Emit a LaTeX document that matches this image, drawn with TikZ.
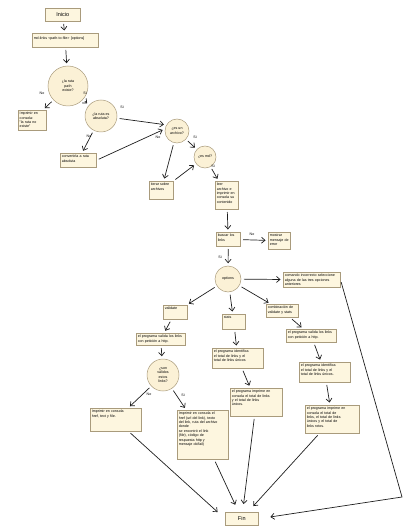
\documentclass[tikz,border=0pt]{standalone}
\usepackage{fontspec}
\setmainfont{Liberation Sans}
\usetikzlibrary{arrows.meta}
\definecolor{boxfill}{HTML}{FDF6DF}
\definecolor{boxline}{HTML}{A99B7C}
\definecolor{decfill}{HTML}{FBF1D6}
\definecolor{arrgray}{HTML}{1E1E1E}
\newcommand{\smallfnt}{\fontsize{3.6}{4.4}\selectfont}

\begin{document}
\begin{tikzpicture}[x=1pt, y=-1pt, >={Straight Barb[length=3.5pt, width=6pt]},
  box/.style 2 args={draw=boxline, line width=0.5pt, fill=boxfill, inner sep=1.5pt,
    anchor=north west, align=left, font=\smallfnt,
    text width=#1, text height=3pt, text depth=#2},
  endbox/.style={draw=boxline, line width=0.5pt, fill=boxfill, anchor=north west,
    font=\fontsize{5.5}{6.5}\selectfont, minimum width=#1, minimum height=13pt},
  dec/.style={circle, draw=boxline, line width=0.5pt, fill=decfill, align=center,
    inner sep=0pt, minimum size=#1, font=\smallfnt},
  arr/.style={->, arrgray, line width=0.7pt, shorten >=2.5pt, shorten <=2.5pt},
  lbl/.style={font=\smallfnt, inner sep=0pt}]

\useasboundingbox (0,0) rectangle (406,529);

% Start
\node[endbox=35pt] (inicio) at (45,8) {Inicio};
\node[box={63pt}{6pt}, text height=5pt] (cmd) at (32,33) {md-links <path-to-file> [options]};

% Path checks
\node[dec=40pt] (existe) at (68,86) {¿la ruta\\path\\existe?};
\node[box={25pt}{14pt}] (noexiste) at (18,110) {Imprimir en\\consola:\\"la ruta no\\existe"};
\node[dec=32pt] (absoluta) at (101,116) {¿la ruta es\\absoluta?};
\node[box={33pt}{8pt}] (conv) at (60,153) {convertirla a ruta\\absoluta};
\node[dec=24pt] (archivo) at (177,131) {¿es un\\archivo?};
\node[box={21pt}{12pt}] (iterar) at (149,181) {iterar sobre\\archivos};
\node[dec=22pt] (md) at (205,157) {¿es md?};
\node[box={20pt}{22pt}] (leer) at (215,181) {leer\\archivo e\\imprimir en\\consola su\\contenido};
\node[box={21pt}{8pt}] (buscar) at (216,232) {buscar los\\links};
\node[box={19pt}{11pt}] (error) at (268,232) {mostrar\\mensaje de\\error};

% Options
\node[dec=26pt] (options) at (228,279) {options};
\node[box={54pt}{9pt}] (comando) at (283,272) {comando incorrecto seleccione\\alguna de las tres opciones\\anteriores};
\node[box={21pt}{8pt}] (validate) at (163,305) {validate};
\node[box={20pt}{9pt}] (stats) at (222,314) {stats};
\node[box={29pt}{7pt}] (combo) at (266,304) {combinación de\\validate y stats};

% Validate branch
\node[box={46pt}{6pt}] (valida1) at (136,333) {el programa valida los links\\con petición a http.};
\node[dec=32pt] (validos) at (163,375) {¿son\\válidos\\estos\\links?};
\node[box={48pt}{17pt}] (href) at (90,408) {Imprimir en consola\\href, text y file.};
\node[box={48pt}{43pt}] (okbox) at (177,410) {Imprimir en consola el\\href (url del link), texto\\del link, ruta del archivo\\donde\\se encontró el link\\(file), código de\\respuesta http y\\mensaje ok/fail)};

% Stats branch
\node[box={48pt}{14pt}] (ident1) at (212,348) {el programa identifica\\el total de links y el\\total de links únicos};
\node[box={49pt}{22pt}] (imp1) at (230,388) {el programa imprime en\\consola el total de links\\y el total de links\\únicos.};

% Validate + stats branch
\node[box={47pt}{7pt}] (valida2) at (286,329) {el programa valida los links\\con petición a http.};
\node[box={48pt}{14pt}] (ident2) at (299,362) {el programa identifica\\el total de links y el\\total de links únicos.};
\node[box={51pt}{22pt}] (imp2) at (305,405) {el programa imprime en\\consola el total de\\links, el total de links\\únicos y el total de\\links rotos.};

% End
\node[endbox=33pt] (fin) at (225,512) {Fin};
\coordinate (corner) at (402,497);

% Arrows
\draw[arr] (inicio) -- (cmd);
\draw[arr] (cmd) -- (existe);
\draw[arr] (existe) -- (noexiste);
\draw[arr] (existe) -- (absoluta);
\draw[arr] (absoluta) -- (archivo.150);
\draw[arr] (absoluta) -- (conv);
\draw[arr] (conv.east) -- (archivo.170);
\draw[arr] (archivo) -- (iterar);
\draw[arr] (archivo) -- (md);
\draw[arr] (iterar) -- (md);
\draw[arr] (md) -- (leer);
\draw[arr] (leer) -- (buscar);
\draw[arr] (buscar) -- (error);
\draw[arr] (buscar) -- (options);
\draw[arr] (options) -- (comando);
\draw[arr] (options) -- (validate);
\draw[arr] (options) -- (stats);
\draw[arr] (options) -- (combo);
\draw[arr] (validate) -- (valida1);
\draw[arr] (valida1) -- (validos);
\draw[arr] (validos) -- (href);
\draw[arr] (validos) -- (okbox);
\draw[arr] (stats) -- (ident1);
\draw[arr] (ident1) -- (imp1);
\draw[arr] (combo) -- (valida2);
\draw[arr] (valida2) -- (ident2);
\draw[arr] (ident2) -- (imp2);

% Arrows to Fin
\draw[arr, shorten >=10pt] (href) -- (fin.west);
\draw[arr, shorten >=8pt] (okbox) -- (fin);
\draw[arr, shorten >=8pt] (imp1) -- (fin);
\draw[arr, shorten >=8pt] (imp2) -- (fin);
\draw[arr, shorten >=12pt] (comando.east) -- (corner) -- (fin.east);

% Labels
\node[lbl] (l1) at (42,93) {No};
\node[lbl] (l2) at (85,93) {Si};
\node[lbl] (l3) at (122,107) {Si};
\node[lbl] (l4) at (89,136) {No};
\node[lbl] (l5) at (158,137) {No};
\node[lbl] (l6) at (195,137) {Si};
\node[lbl] (l7) at (213,166) {Si};
\node[lbl] (l8) at (252,234) {No};
\node[lbl] (l9) at (220,257) {Si};
\node[lbl] (l10) at (149,394) {No};
\node[lbl] (l11) at (183,395) {Si};

\end{tikzpicture}
\end{document}
